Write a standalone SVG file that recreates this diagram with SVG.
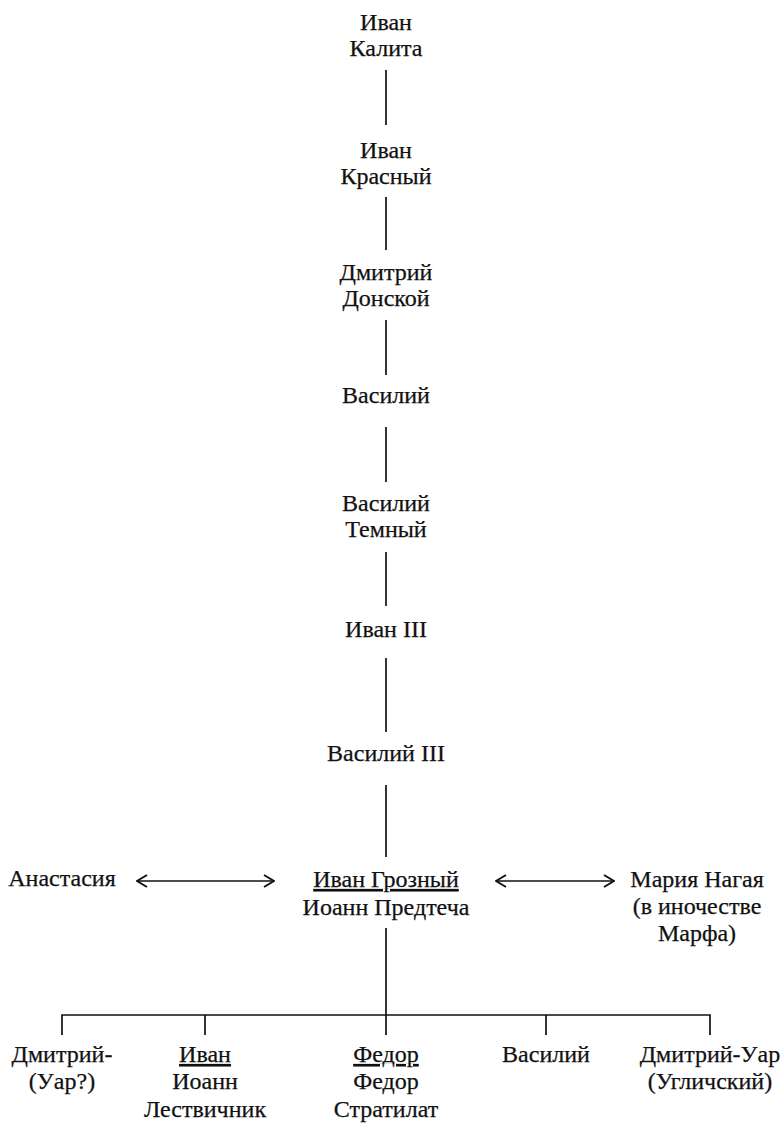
<svg xmlns="http://www.w3.org/2000/svg" width="783" height="1123" viewBox="0 0 783 1123">
<style>
text{font-family:"Liberation Serif","Times New Roman",serif;font-size:24px;fill:#111;text-anchor:middle;stroke:#111;stroke-width:0.25}
.l{stroke:#111;stroke-width:1.7;fill:none}
.u{text-decoration:underline}
</style>
<defs>
<marker id="ah" viewBox="0 0 12 14" refX="11" refY="7" markerWidth="12" markerHeight="14" markerUnits="userSpaceOnUse" orient="auto-start-reverse">
<path d="M1,1 L11,7 L1,13" fill="none" stroke="#111" stroke-width="2"/>
</marker>
</defs>
<rect width="783" height="1123" fill="#fff"/>
<g id="n1"><text x="386" y="30">Иван</text><text x="386" y="56">Калита</text></g>
<g id="n2"><text x="386" y="158">Иван</text><text x="386" y="184">Красный</text></g>
<g id="n3"><text x="386" y="280">Дмитрий</text><text x="386" y="306">Донской</text></g>
<g id="n4"><text x="386" y="403">Василий</text></g>
<g id="n5"><text x="386" y="511">Василий</text><text x="386" y="537">Темный</text></g>
<g id="n6"><text x="386" y="637">Иван III</text></g>
<g id="n7"><text x="386" y="761">Василий III</text></g>
<g id="n8"><text x="386" y="887" class="u">Иван Грозный</text><text x="386" y="915">Иоанн Предтеча</text></g>
<g id="n9"><text x="62" y="886">Анастасия</text></g>
<g id="n10"><text x="697" y="887">Мария Нагая</text><text x="697" y="914">(в иночестве</text><text x="697" y="941">Марфа)</text></g>
<g id="c1"><text x="62" y="1062">Дмитрий-</text><text x="62" y="1089">(Уар?)</text></g>
<g id="c2"><text x="205" y="1062" class="u">Иван</text><text x="205" y="1089">Иоанн</text><text x="205" y="1117">Лествичник</text></g>
<g id="c3"><text x="386" y="1062" class="u">Федор</text><text x="386" y="1089">Федор</text><text x="386" y="1117">Стратилат</text></g>
<g id="c4"><text x="546" y="1062">Василий</text></g>
<g id="c5"><text x="710" y="1062">Дмитрий-Уар</text><text x="710" y="1089">(Угличский)</text></g>
<g id="connectors">
<line class="l" x1="386" y1="70" x2="386" y2="125"/>
<line class="l" x1="386" y1="197" x2="386" y2="250"/>
<line class="l" x1="386" y1="320" x2="386" y2="375"/>
<line class="l" x1="386" y1="427" x2="386" y2="482"/>
<line class="l" x1="386" y1="552" x2="386" y2="606"/>
<line class="l" x1="386" y1="658" x2="386" y2="732"/>
<line class="l" x1="386" y1="785" x2="386" y2="857"/>
<line class="l" x1="137" y1="881" x2="274" y2="881" marker-start="url(#ah)" marker-end="url(#ah)"/>
<line class="l" x1="496" y1="881" x2="614" y2="881" marker-start="url(#ah)" marker-end="url(#ah)"/>
<line class="l" x1="386" y1="928" x2="386" y2="1015"/>
<path class="l" d="M62,1035 V1015 H710 V1035"/>
<line class="l" x1="205" y1="1015" x2="205" y2="1035"/>
<line class="l" x1="386" y1="1015" x2="386" y2="1035"/>
<line class="l" x1="546" y1="1015" x2="546" y2="1035"/>
</g>
</svg>
